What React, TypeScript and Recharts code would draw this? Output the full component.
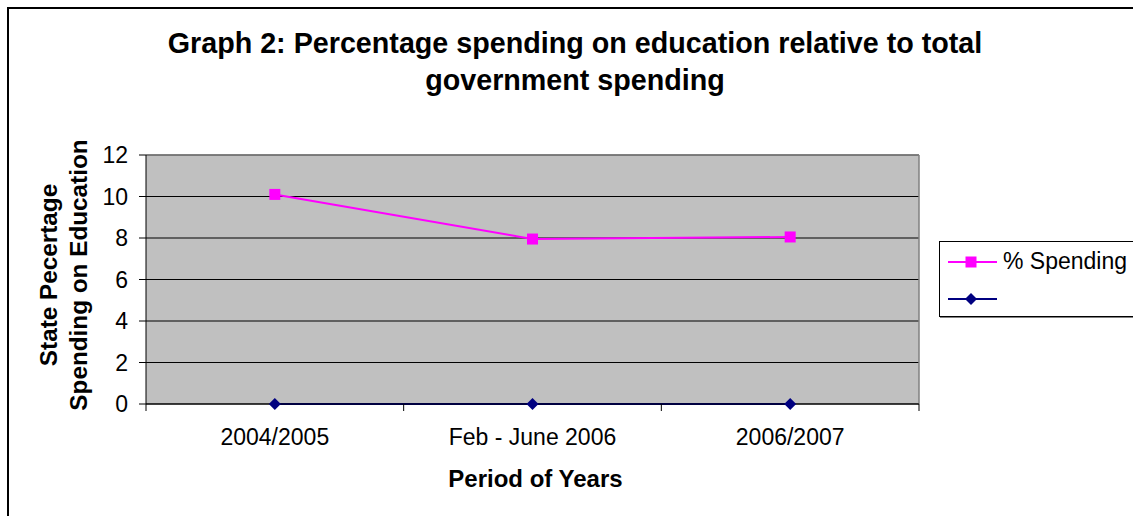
import React from 'react';
import { LineChart, Line, XAxis, YAxis, CartesianGrid, ReferenceLine, Legend, Customized } from 'recharts';

const periods = ['2004/2005', 'Feb - June 2006', '2006/2007'];
const spending = [10.1, 7.95, 8.05];
const secondSeries = [0, 0, 0];
const yTicks = [0, 2, 4, 6, 8, 10, 12];
const seriesKeys = ['spending', 'other'];
const seriesNames = ['% Spending', ''];
const titleLines = ['Graph 2: Percentage spending on education relative to total', 'government spending'];
const yLabelLines = ['State Pecertage', 'Spending on Education'];
const xLabel = 'Period of Years';

const data = periods.map((p, i) => ({ period: p, pos: i + 0.5, spending: spending[i], other: secondSeries[i] }));
const xTicks: number[] = [];
periods.forEach((_, i) => { xTicks.push(i, i + 0.5); });
xTicks.push(periods.length);

const FONT = '"Liberation Sans", Arial, Helvetica, sans-serif';
const PINK = '#FF00FF';
const NAVY = '#000080';

const XTick = (props: any) => {
  const { x, y, payload } = props;
  const v = payload.value;
  if (Number.isInteger(v)) {
    return <line x1={x} x2={x} y1={y} y2={y + 7} stroke="#000" strokeWidth={1} />;
  }
  return (
    <text x={x} y={y + 41} textAnchor="middle" fontSize={23} fill="#000" fontFamily={FONT}>
      {periods[Math.floor(v)]}
    </text>
  );
};

const SquareDot = (props: any) => {
  const { cx, cy } = props;
  if (cx == null || cy == null) return null;
  return <rect x={cx - 5.5} y={cy - 5.5} width={11} height={11} fill={PINK} />;
};

const DiamondDot = (props: any) => {
  const { cx, cy } = props;
  if (cx == null || cy == null) return null;
  return <polygon points={`${cx},${cy - 6} ${cx + 6},${cy} ${cx},${cy + 6} ${cx - 6},${cy}`} fill={NAVY} />;
};

const LegendBox = (props: any) => {
  const payload = (props.payload || []) as any[];
  const rows = [21, 58];
  const ordered = seriesKeys
    .map((k) => payload.find((e: any) => e.dataKey === k))
    .filter(Boolean);
  return (
    <div style={{ width: 230, height: 76, border: '1px solid #000', boxSizing: 'border-box', background: '#fff', boxShadow: '1px 1px 0 #808080' }}>
      <svg width={228} height={74} style={{ display: 'block' }}>
        {ordered.map((entry: any, i: number) => {
          const y = rows[i] - 1;
          const idx = seriesKeys.indexOf(entry.dataKey);
          const isSq = entry.dataKey === 'spending';
          const color = isSq ? PINK : NAVY;
          return (
            <g key={i}>
              <line x1={8} x2={57} y1={y} y2={y} stroke={color} strokeWidth={2} />
              {isSq ? (
                <rect x={31 - 5.5} y={y - 5.5} width={11} height={11} fill={PINK} />
              ) : (
                <polygon points={`31,${y - 6} 37,${y} 31,${y + 6} 25,${y}`} fill={NAVY} />
              )}
              <text x={63} y={y + 7} fontSize={23} fontFamily={FONT} fill="#000">
                {seriesNames[idx]}
              </text>
            </g>
          );
        })}
      </svg>
    </div>
  );
};

const Texts = () => (
  <g fontFamily={FONT} fill="#000">
    <text x={566} y={44} textAnchor="middle" fontSize={28.7} fontWeight="bold">{titleLines[0]}</text>
    <text x={566} y={81} textAnchor="middle" fontSize={28.7} fontWeight="bold">{titleLines[1]}</text>
    <text x={47.5} y={266} textAnchor="middle" fontSize={24.3} fontWeight="bold" transform="rotate(-90, 47.5, 266)">{yLabelLines[0]}</text>
    <text x={77.7} y={266} textAnchor="middle" fontSize={24.3} fontWeight="bold" transform="rotate(-90, 77.7, 266)">{yLabelLines[1]}</text>
    <text x={526.5} y={478} textAnchor="middle" fontSize={24} fontWeight="bold">{xLabel}</text>
  </g>
);

export default function App() {
  return (
    <div style={{ position: 'fixed', left: 7, top: 7, width: 1140, height: 520, border: '2px solid #000', background: '#fff' }}>
      <LineChart width={1140} height={520} data={data} margin={{ top: 146, right: 230, bottom: 25, left: 77 }}>
        <CartesianGrid vertical={false} stroke="#000" fill="#C0C0C0" fillOpacity={1} />
        <ReferenceLine y={12} stroke="#808080" strokeWidth={1.5} />
        <ReferenceLine x={3} stroke="#808080" strokeWidth={1.5} />
        <XAxis
          dataKey="pos"
          type="number"
          domain={[0, periods.length]}
          ticks={xTicks}
          interval={0}
          allowDecimals
          height={100}
          tickSize={0}
          tickMargin={0}
          tickLine={false}
          tick={<XTick />}
          axisLine={{ stroke: '#000', strokeWidth: 1 }}
        />
        <YAxis
          domain={[0, 12]}
          ticks={yTicks}
          interval={0}
          width={60}
          tickSize={7}
          tickMargin={11}
          tick={{ fontSize: 23, fill: '#000', fontFamily: FONT }}
          tickLine={{ stroke: '#000' }}
          axisLine={{ stroke: '#000', strokeWidth: 1 }}
        />
        <Legend
          layout="vertical"
          align="center"
          verticalAlign="middle"
          content={<LegendBox />}
          wrapperStyle={{ left: 930, top: 232, width: 230, height: 76 }}
        />
        <Line dataKey="spending" name={seriesNames[0]} stroke={PINK} strokeWidth={2} dot={<SquareDot />} activeDot={false} isAnimationActive={false} />
        <Line dataKey="other" name={seriesNames[1] || ' '} stroke={NAVY} strokeWidth={2} dot={<DiamondDot />} activeDot={false} isAnimationActive={false} />
        <Customized component={<Texts />} />
      </LineChart>
    </div>
  );
}
